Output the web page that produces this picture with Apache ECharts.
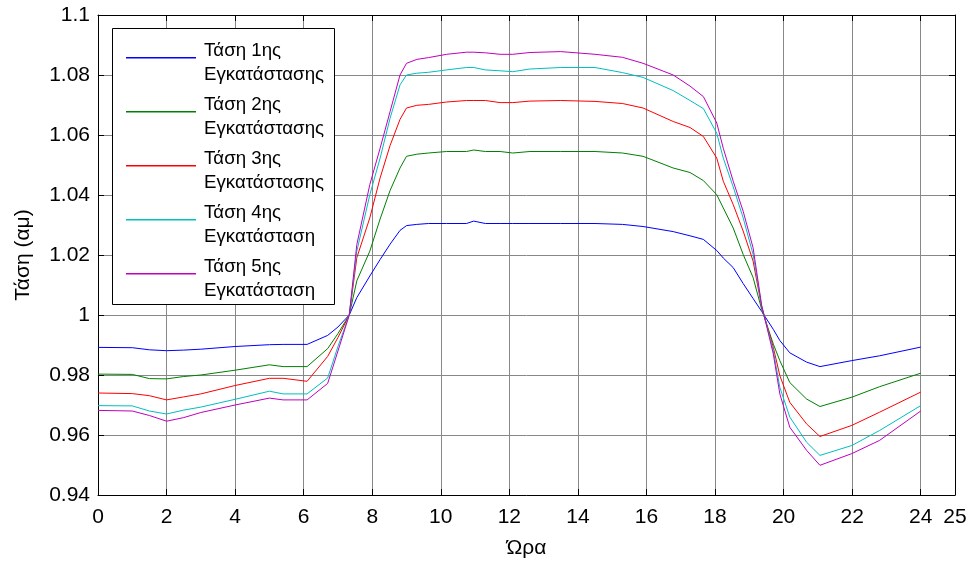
<!DOCTYPE html>
<html>
<head>
<meta charset="utf-8">
<script src="https://cdn.jsdelivr.net/npm/echarts@6/dist/echarts.min.js"></script>
<style>
html,body{margin:0;padding:0;background:#fff;}
#c{width:971px;height:564px;}
</style>
</head>
<body>
<div id="c"></div>
<script>
// Hours (x values)
const hours = [0, 1, 1.5, 2, 2.5, 3, 4, 5, 5.4, 6.1,
  6.7, 7.0, 7.33, 7.55, 7.93, 8.23, 8.52, 8.81, 9.0, 9.3,
  9.64, 10.17, 10.75, 10.96, 11.3, 11.73, 12.1, 12.6, 13.5, 14.5,
  15.3, 15.9, 16.78, 17.27, 17.66, 18.05, 18.24, 18.53, 18.82, 19.11,
  19.36, 19.7, 19.89, 20.18, 20.67, 21.06, 21.99, 22.8, 24];

const seriesNames = ['Τάση 1ης\nΕγκατάστασης', 'Τάση 2ης\nΕγκατάστασης', 'Τάση 3ης\nΕγκατάστασης', 'Τάση 4ης\nΕγκατάσταση', 'Τάση 5ης\nΕγκατάσταση'];

const v1 = [0.9892, 0.9891, 0.9884, 0.9881, 0.9883, 0.9886, 0.9895, 0.9901, 0.9902, 0.9902,
  0.9932, 0.9960, 1.0, 1.0058, 1.013, 1.0185, 1.0236, 1.0282, 1.0298, 1.0302,
  1.0305, 1.0305, 1.0305, 1.0313, 1.0305, 1.0305, 1.0305, 1.0305, 1.0305, 1.0305,
  1.0302, 1.0295, 1.0278, 1.0264, 1.0252, 1.0215, 1.019, 1.0158, 1.0105, 1.0055,
  1.0012, 0.9952, 0.9915, 0.9874, 0.9843, 0.9828, 0.9848, 0.9864, 0.9893];
const v2 = [0.9803, 0.9802, 0.9788, 0.9787, 0.9795, 0.9800, 0.9816, 0.9834, 0.9828, 0.9828,
  0.9888, 0.9938, 1.0, 1.0114, 1.0213, 1.032, 1.0415, 1.049, 1.0529, 1.0536,
  1.054, 1.0545, 1.0545, 1.055, 1.0545, 1.0545, 1.054, 1.0545, 1.0545, 1.0545,
  1.054, 1.0529, 1.049, 1.0475, 1.0448, 1.0401, 1.0357, 1.029, 1.0202, 1.0125,
  1.0019, 0.9903, 0.9848, 0.9775, 0.972, 0.9695, 0.9726, 0.9761, 0.9806];
const v3 = [0.974, 0.9738, 0.9731, 0.9717, 0.9727, 0.9737, 0.9765, 0.9789, 0.9789, 0.9779,
  0.9862, 0.9925, 1.0, 1.0191, 1.0324, 1.0457, 1.0565, 1.0652, 1.069, 1.0699,
  1.0702, 1.071, 1.0715, 1.0715, 1.0715, 1.0708, 1.0708, 1.0713, 1.0715, 1.0712,
  1.0705, 1.069, 1.0645, 1.0625, 1.0595, 1.0523, 1.0446, 1.0368, 1.028, 1.018,
  1.0027, 0.9892, 0.9798, 0.9709, 0.9637, 0.9595, 0.9632, 0.9676, 0.9743];
const v4 = [0.9698, 0.9697, 0.968, 0.967, 0.9683, 0.9693, 0.9719, 0.9746, 0.9737, 0.9737,
  0.979, 0.9895, 1.0, 1.0213, 1.0401, 1.0523, 1.0656, 1.0767, 1.08, 1.0806,
  1.0809, 1.0817, 1.0825, 1.0825, 1.0817, 1.0814, 1.0811, 1.082, 1.0825, 1.0825,
  1.0808, 1.0792, 1.0748, 1.0715, 1.0688, 1.0606, 1.0523, 1.0427, 1.0324, 1.0202,
  1.003, 0.9881, 0.9759, 0.966, 0.9576, 0.9532, 0.9565, 0.9615, 0.9698];
const v5 = [0.9682, 0.968, 0.9665, 0.9646, 0.9658, 0.9675, 0.97, 0.9723, 0.9717, 0.9717,
  0.9772, 0.988, 1.0, 1.0235, 1.0435, 1.0556, 1.0678, 1.08, 1.0839, 1.0852,
  1.0858, 1.0869, 1.0876, 1.0876, 1.0874, 1.0869, 1.0869, 1.0875, 1.0878, 1.0869,
  1.0859, 1.0839, 1.08, 1.0763, 1.0728, 1.064, 1.0556, 1.0446, 1.0346, 1.0224,
  1.0032, 0.987, 0.9737, 0.9626, 0.9549, 0.9499, 0.9538, 0.9582, 0.968];

const colors = ['#0000ff', '#008000', '#ff0000', '#00bfbf', '#bf00bf'];
const allValues = [v1, v2, v3, v4, v5];

const FONT = "Arial, 'Liberation Sans', sans-serif";
const chart = echarts.init(document.getElementById('c'), null, {renderer: 'canvas'});

const yFmt = v => parseFloat(v.toFixed(2)).toString();

const option = {
  animation: false,
  backgroundColor: '#fff',
  color: colors,
  textStyle: {fontFamily: FONT},
  grid: {left: 98, right: 16, top: 15, bottom: 67, containLabel: false},
  graphic: [{
    type: 'rect', z: 50, silent: true,
    shape: {x: 112.5, y: 28.5, width: 222, height: 276},
    style: {fill: '#fff', stroke: '#000', lineWidth: 1}
  }],
  legend: {
    orient: 'vertical',
    left: 126, top: 39,
    z: 60,
    backgroundColor: 'transparent',
    borderWidth: 0,
    padding: 0,
    icon: 'path://M0,0H70V1.4H0ZM0,12L0.001,12',
    itemWidth: 70, itemHeight: 12,
    itemGap: 6,
    selectedMode: false,
    textStyle: {fontFamily: FONT, fontSize: 18.7, color: '#000', lineHeight: 24, padding: [0, 0, 0, 3]},
    data: seriesNames
  },
  xAxis: [{
    type: 'value', min: 0, max: 25, interval: 2, position: 'bottom',
    name: 'Ώρα', nameLocation: 'middle', nameGap: 43,
    nameTextStyle: {fontFamily: FONT, fontSize: 21, color: '#000'},
    axisLine: {show: true, onZero: false, lineStyle: {color: '#000', width: 1}},
    axisTick: {show: true, inside: true, length: 6, lineStyle: {color: '#000'}},
    axisLabel: {fontFamily: FONT, fontSize: 21, color: '#000', margin: 12},
    splitLine: {show: true, lineStyle: {color: '#888', width: 1}}
  }, {
    type: 'value', min: 0, max: 25, interval: 2, position: 'top',
    axisLine: {show: true, onZero: false, lineStyle: {color: '#000', width: 1}},
    axisTick: {show: true, inside: true, length: 6, lineStyle: {color: '#000'}},
    axisLabel: {show: false},
    splitLine: {show: false}
  }],
  yAxis: [{
    type: 'value', min: 0.94, max: 1.1, interval: 0.02, position: 'left',
    name: 'Τάση (αμ)', nameLocation: 'middle', nameGap: 64, nameRotate: 90,
    nameTextStyle: {fontFamily: FONT, fontSize: 21, color: '#000'},
    axisLine: {show: true, onZero: false, lineStyle: {color: '#000', width: 1}},
    axisTick: {show: true, inside: true, length: 6, lineStyle: {color: '#000'}},
    axisLabel: {fontFamily: FONT, fontSize: 21, color: '#000', margin: 8, formatter: yFmt},
    splitLine: {show: true, lineStyle: {color: '#888', width: 1}}
  }, {
    type: 'value', min: 0.94, max: 1.1, interval: 0.02, position: 'right',
    axisLine: {show: true, onZero: false, lineStyle: {color: '#000', width: 1}},
    axisTick: {show: true, inside: true, length: 6, lineStyle: {color: '#000'}},
    axisLabel: {show: false},
    splitLine: {show: false}
  }],
  series: allValues.map((vals, i) => ({
    name: seriesNames[i],
    type: 'line',
    xAxisIndex: 0, yAxisIndex: 0,
    symbol: 'none',
    smooth: false,
    itemStyle: {color: colors[i], borderWidth: 0},
    lineStyle: {color: colors[i], width: 1},
    data: hours.map((h, k) => [h, vals[k]])
  }))
};
chart.setOption(option);
</script>
</body>
</html>
